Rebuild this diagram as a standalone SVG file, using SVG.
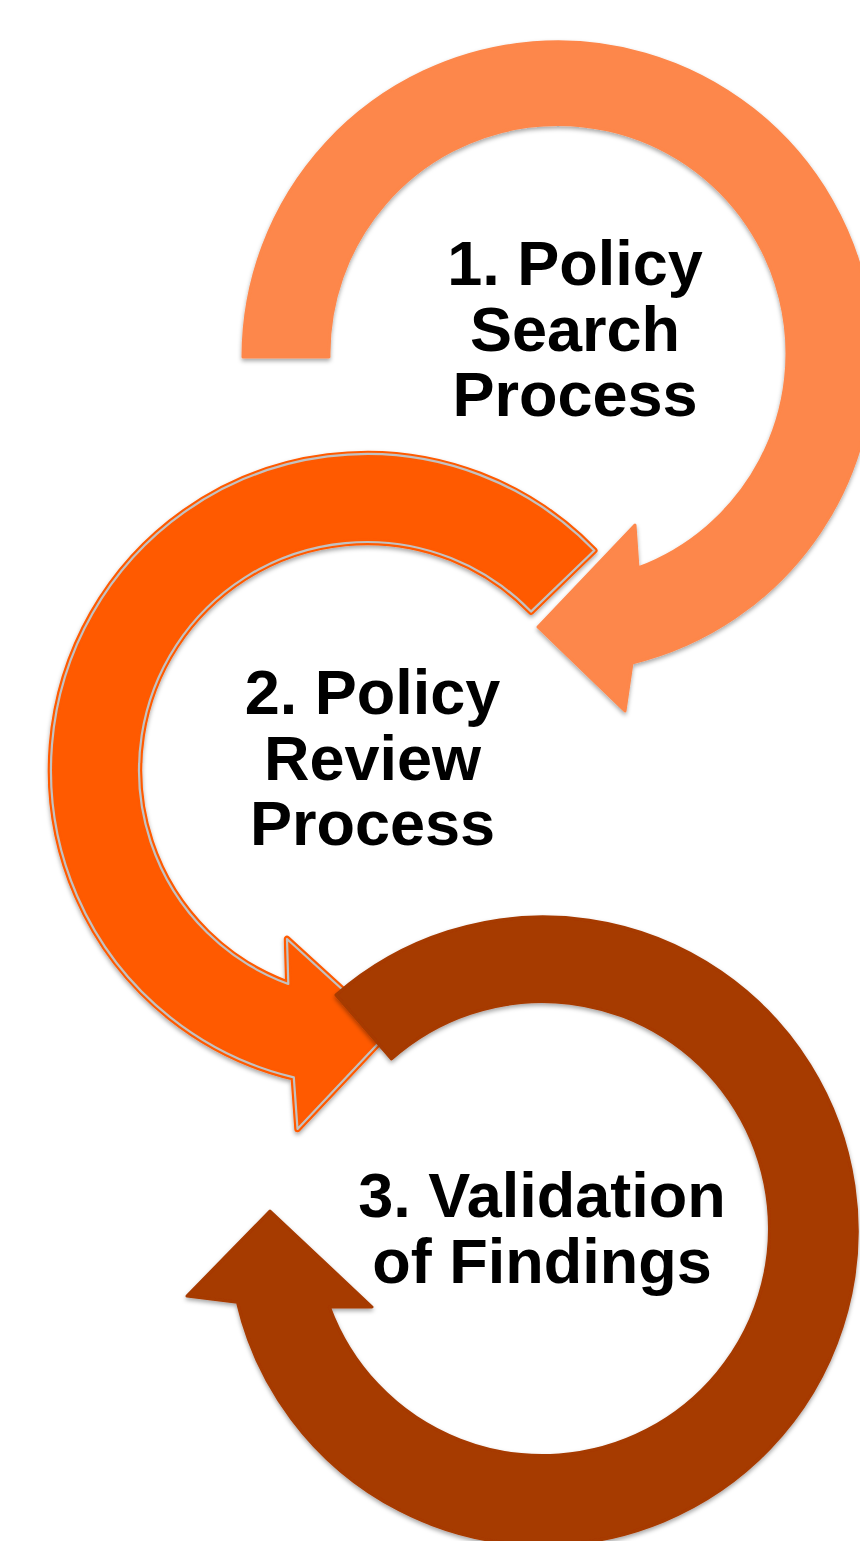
<svg xmlns="http://www.w3.org/2000/svg" width="860" height="1541" viewBox="0 0 860 1541">
  <defs>
    <filter id="shadow" x="-10%" y="-10%" width="120%" height="120%">
      <feDropShadow dx="0" dy="2.5" stdDeviation="2" flood-color="#000000" flood-opacity="0.35"/>
    </filter>
  </defs>
  <style>
    .label { font-family: "Liberation Sans", Arial, sans-serif; font-weight: bold; font-size: 63px; fill: #000000; text-anchor: middle; }
    .a1 { fill: #FD874B; stroke: #FD874B; stroke-width: 3; stroke-linejoin: round; }
    .a2 { fill: #FF5A00; stroke: #FF5A00; stroke-width: 6.5; stroke-linejoin: round; }
    .a2-line { fill: none; stroke: #C2C2C2; stroke-width: 2.2; stroke-linejoin: round; }
    .a3 { fill: #A63A00; stroke: #A63A00; stroke-width: 3; stroke-linejoin: round; }
  </style>
  <rect width="860" height="1541" fill="#FFFFFF"/>

  <!-- circular arrows, drawn bottom to top -->
  <g id="connectors">
    <g id="arrow-1" filter="url(#shadow)">
      <path class="a1" d="M 243,357 A 315,315 0 1 1 632,663 L 625,711 L 538,627 L 635,525 L 638,568 A 229,229 0 1 0 329,357 Z"/>
    </g>
    <g id="arrow-2" filter="url(#shadow)">
      <path class="a2" d="M 594.3,550.5 A 316,316 0 1 0 293.8,1077.4 L 297.5,1129 L 389,1032 L 287,939 L 288.3,984 A 228,228 0 1 1 531,611.6 Z"/>
      <path class="a2-line" d="M 594.3,550.5 A 316,316 0 1 0 293.8,1077.4 L 297.5,1129 L 389,1032 L 287,939 L 288.3,984 A 228,228 0 1 1 531,611.6 Z"/>
    </g>
    <g id="arrow-3" filter="url(#shadow)">
      <path class="a3" d="M 336,995 A 314,314 0 1 1 237.4,1302.2 L 187,1296 L 270,1211 L 372,1307 L 329.4,1306.9 A 227,227 0 1 0 391.5,1059 Z"/>
    </g>
  </g>

  <g id="node-1">
    <text class="label" x="575" y="285">1. Policy</text>
    <text class="label" x="575" y="350.5">Search</text>
    <text class="label" x="575" y="416">Process</text>
  </g>
  <g id="node-2">
    <text class="label" x="372.5" y="714">2. Policy</text>
    <text class="label" x="372.5" y="779.5">Review</text>
    <text class="label" x="372.5" y="845">Process</text>
  </g>
  <g id="node-3">
    <text class="label" x="542" y="1217">3. Validation</text>
    <text class="label" x="542" y="1282.5">of Findings</text>
  </g>
</svg>
